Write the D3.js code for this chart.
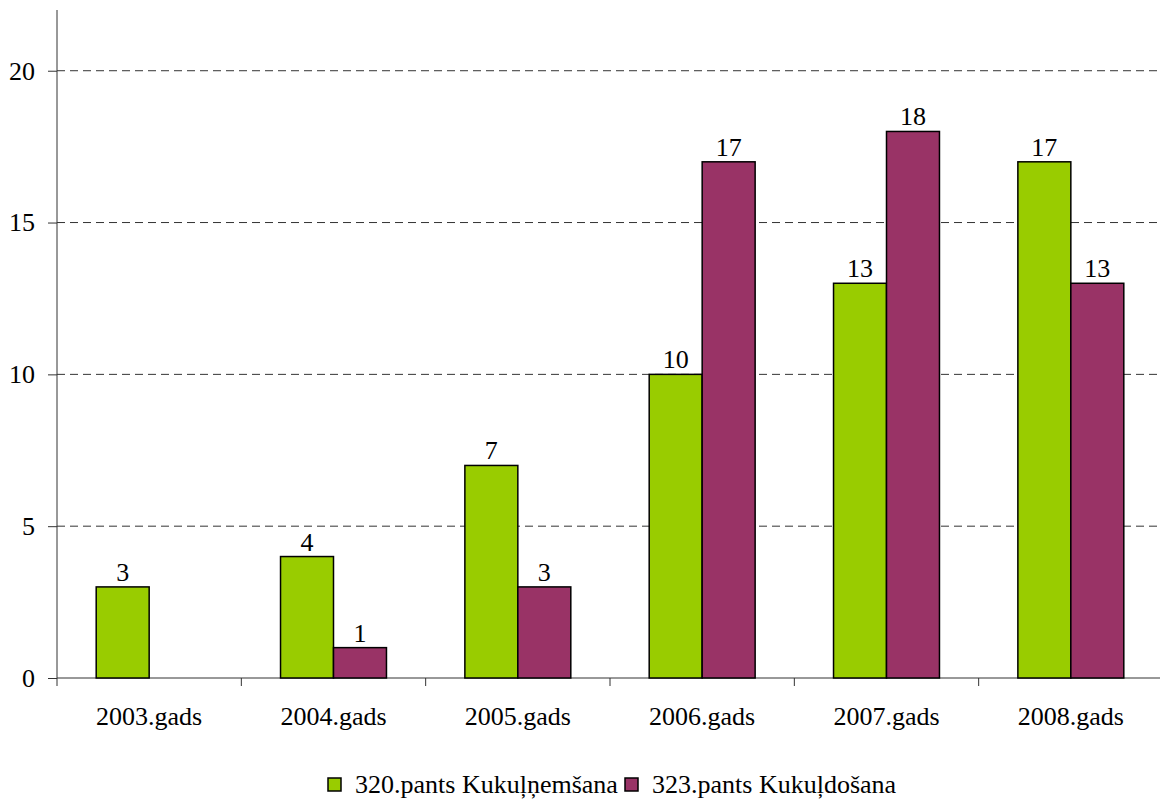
<!DOCTYPE html>
<html><head><meta charset="utf-8">
<script src="https://cdn.jsdelivr.net/npm/d3@7/dist/d3.min.js"></script>
<style>body{margin:0;background:#fff}svg{display:block}</style>
</head><body>
<svg id="c" width="1160" height="800"></svg>
<script>
const categories = ["2003.gads","2004.gads","2005.gads","2006.gads","2007.gads","2008.gads"];
const seriesNames = ["320.pants Kukuļņemšana","323.pants Kukuļdošana"];
const series320 = [3,4,7,10,13,17];
const series323 = [null,1,3,17,18,13];
const yTicks = [0,5,10,15,20];
const colors = ["#99CC00","#993366"];

(function(){
const FONT = '"Liberation Serif", Tinos, "Times New Roman", serif';
const FS = 26;
const svg = d3.select("#c");
const pLeft = 57, pRight = 1163, pTop = 10, pBottom = 678;
const x = d3.scaleBand().domain(categories).range([pLeft, pRight]).paddingInner(0).paddingOuter(0);
const y = d3.scaleLinear().domain([0,22]).range([pBottom, pTop]);
const inner = d3.scaleBand().domain([0,1]).range([0, x.bandwidth()]).paddingInner(0).paddingOuter(0.74);

// gridlines
svg.append("g").selectAll("line").data(yTicks.filter(d=>d>0)).join("line")
  .attr("x1", pLeft).attr("x2", 1160).attr("y1", d=>y(d)).attr("y2", d=>y(d))
  .attr("stroke","#333").attr("stroke-width",1).attr("stroke-dasharray","8,5");

// y axis
const ya = svg.append("g").attr("transform",`translate(${pLeft},0)`)
  .call(d3.axisLeft(y).tickValues(yTicks).tickSize(9).tickPadding(13));
ya.attr("font-family", null).attr("font-size", null);
ya.select(".domain").attr("d",`M0,${pTop}V${pBottom}`).attr("stroke","#333");
ya.selectAll(".tick line").attr("stroke","#333");
ya.selectAll("text").style("font-size",FS+"px").attr("fill","#000").style("font-family",FONT);

// x axis
const xa = svg.append("g").attr("transform",`translate(0,${pBottom})`);
xa.append("line").attr("x1",pLeft).attr("x2",1160).attr("stroke","#333");
xa.selectAll("line.t").data(categories).join("line").attr("class","t")
  .attr("x1",d=>x(d)).attr("x2",d=>x(d)).attr("y1",0).attr("y2",8).attr("stroke","#333");
xa.selectAll("text").data(categories).join("text")
  .attr("x",d=>x(d)+x.bandwidth()/2).attr("y",47).attr("text-anchor","middle")
  .style("font-size",FS+"px").style("font-family",FONT).text(d=>d);

const data = [series320, series323];
data.forEach((vals, si) => {
  const g = svg.append("g");
  const pts = categories.map((c,i)=>({c, v: vals[i]})).filter(d=>d.v!=null);
  g.selectAll("rect").data(pts).join("rect")
    .attr("x", d=>x(d.c)+inner(si)).attr("width", inner.bandwidth())
    .attr("y", d=>y(d.v)).attr("height", d=>pBottom - y(d.v))
    .attr("fill", colors[si]).attr("stroke","#000").attr("stroke-width",1.5);
  g.selectAll("text").data(pts).join("text")
    .attr("x", d=>x(d.c)+inner(si)+inner.bandwidth()/2).attr("y", d=>y(d.v)-6)
    .attr("text-anchor","middle").style("font-size",FS+"px").style("font-family",FONT).text(d=>d.v);
});

// legend
const lg = svg.append("g");
const legX = [328, 625];
seriesNames.forEach((n,i)=>{
  lg.append("rect").attr("x",legX[i]).attr("y",778).attr("width",13).attr("height",13)
    .attr("fill",colors[i]).attr("stroke","#000").attr("stroke-width",1.5);
  lg.append("text").attr("x",legX[i]+27).attr("y",793)
    .style("font-size",FS+"px").style("font-family",FONT).text(n);
});
})();
</script>
</body></html>
